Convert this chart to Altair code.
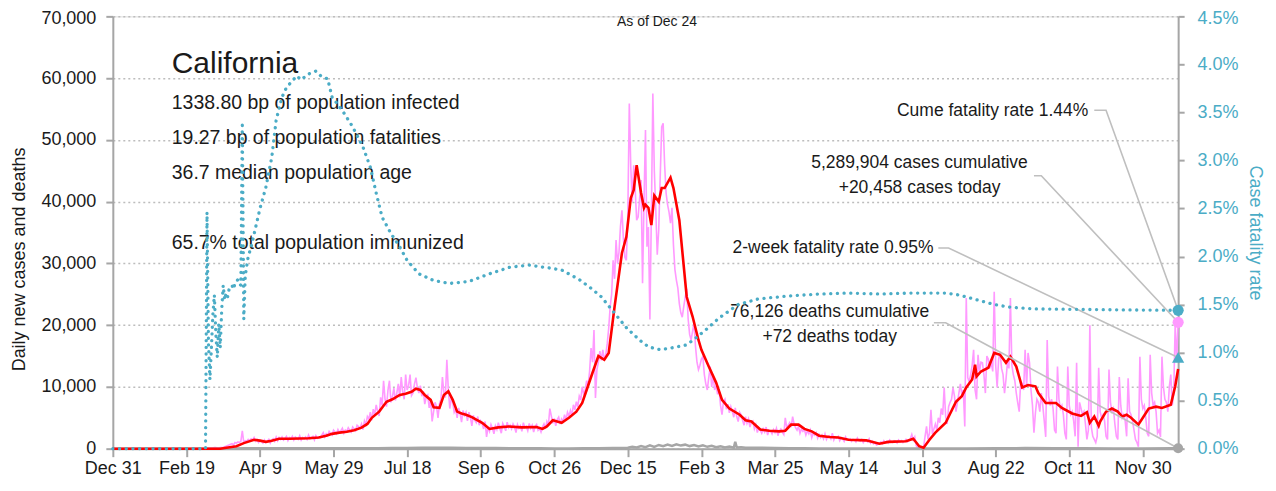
import altair as alt
import pandas as pd

FONT = "Liberation Sans, Arial, sans-serif"
PINK = "#FF99FF"
RED = "#FF0000"
TEAL = "#4BACC6"
GRAY = "#A6A6A6"
LEAD = "#BFBFBF"
INK = "#1a1a1a"

START = pd.Timestamp("2019-12-31")
END_DAY = 724  # 2021-12-24

x_tick_dates = ["2019-12-31", "2020-02-19", "2020-04-09", "2020-05-29", "2020-07-18",
                "2020-09-06", "2020-10-26", "2020-12-15", "2021-02-03", "2021-03-25",
                "2021-05-14", "2021-07-03", "2021-08-22", "2021-10-11", "2021-11-30"]
left_ticks = [0, 10000, 20000, 30000, 40000, 50000, 60000, 70000]
right_ticks = [0, 0.005, 0.01, 0.015, 0.02, 0.025, 0.03, 0.035, 0.04, 0.045]

# daily new cases (thousands), day offsets from 2019-12-31
pink_lead_days = [0, 60]
pink_lead_vals = [0.0, 0.0]
pink_first_day = 61
pink_vals = [
    0.0, 0.0, 0.1, 0.0, 0.1, 0.1, 0.1, 0.1, 0.2, 0.2,
    0.1, 0.1, 0.2, 0.2, 0.2, 0.3, 0.4, 0.5, 0.6, 0.7,
    0.8, 0.6, 1.0, 0.9, 1.1, 1.0, 1.2, 2.9, 1.0, 1.3,
    1.2, 1.5, 1.3, 1.6, 1.4, 1.8, 1.2, 1.5, 1.0, 1.3,
    1.2, 0.9, 1.4, 1.0, 1.2, 1.5, 0.9, 1.4, 1.6, 1.2,
    1.9, 1.3, 1.8, 1.5, 1.9, 1.4, 1.7, 2.0, 1.3, 1.8,
    1.6, 2.0, 1.4, 1.9, 1.7, 1.5, 2.1, 1.4, 1.8, 1.6,
    1.9, 1.5, 2.2, 1.6, 1.8, 2.0, 1.4, 2.1, 1.7, 1.9,
    1.8, 2.2, 2.6, 1.9, 2.4, 2.1, 2.8, 2.5, 2.2, 3.0,
    2.7, 2.4, 3.1, 2.6, 2.9, 3.3, 2.5, 3.0, 2.8, 3.4,
    3.0, 2.7, 3.5, 3.2, 2.9, 3.8, 3.6, 3.3, 4.0, 3.1,
    4.5, 3.9, 5.2, 4.8, 5.9, 4.6, 6.4, 5.5, 7.1, 6.0,
    5.3, 8.3, 7.0, 11.0, 8.0, 6.8, 9.5, 11.0, 7.5, 8.4,
    9.8, 7.8, 9.0, 10.5, 8.3, 11.6, 9.2, 8.0, 12.0, 9.5,
    10.2, 12.0, 8.6, 9.0, 10.5, 11.5, 9.8, 9.0, 10.2, 8.5,
    9.3, 7.2, 8.4, 8.7, 6.6, 7.9, 4.4, 6.0, 7.5, 6.8,
    5.0, 7.3, 8.0, 11.6, 9.0, 8.3, 14.4, 9.6, 6.5, 8.1,
    7.5, 5.9, 6.4, 5.0, 6.6, 5.7, 4.3, 6.2, 5.4, 5.9,
    4.5, 5.9, 5.1, 3.7, 5.4, 4.6, 4.2, 5.2, 3.8, 4.5,
    4.0, 3.2, 4.4, 1.9, 3.5, 2.8, 3.9, 3.3, 2.4, 3.7,
    3.1, 4.2, 3.3, 2.5, 4.1, 3.6, 2.9, 4.3, 3.4, 3.8,
    3.2, 4.0, 3.5, 2.6, 3.9, 3.3, 3.7, 2.8, 4.2, 3.4,
    3.6, 2.9, 4.1, 3.3, 3.8, 2.7, 3.6, 3.9, 3.0, 3.3,
    2.7, 3.5, 4.0, 3.2, 4.4, 3.8, 6.5, 5.3, 4.1, 4.9,
    3.7, 4.7, 5.1, 4.0, 4.8, 4.4, 5.5, 4.6, 5.9, 5.3,
    6.2, 5.4, 7.1, 6.3, 7.6, 6.8, 8.5, 7.9, 10.0, 8.9,
    9.5, 11.0, 10.2, 12.5, 16.3, 14.0, 19.2, 8.2, 12.8, 14.0,
    15.8, 14.3, 16.0, 14.4, 15.2, 17.0, 19.5, 23.0, 25.0, 30.5,
    27.5, 33.8, 30.0, 31.8, 36.0, 38.6, 34.0, 31.0, 30.5, 38.0,
    55.9, 45.6, 40.0, 45.9, 42.0, 37.0, 37.5, 40.5, 43.5, 26.8,
    40.0, 51.6, 32.7, 35.9, 20.9, 38.0, 57.5, 45.0, 38.6, 31.4,
    35.4, 44.0, 52.1, 52.7, 46.0, 41.4, 39.5, 38.3, 36.5, 39.0,
    33.0, 29.0, 27.3, 26.0, 23.5, 22.0, 21.3, 23.0, 24.5, 25.9,
    21.0, 18.5, 17.6, 19.0, 20.4, 16.5, 14.0, 12.8, 13.5, 14.5,
    14.9, 12.0, 10.5, 9.5, 11.5, 13.3, 10.0, 11.8, 9.5, 10.2,
    8.8, 9.6, 7.0, 5.5, 7.6, 8.0, 6.4, 7.2, 5.8, 6.8,
    6.0, 5.1, 6.6, 5.2, 4.4, 5.9, 5.5, 4.6, 3.8, 5.2,
    4.1, 4.8, 3.5, 4.3, 4.5, 3.2, 3.9, 2.6, 3.4, 3.0,
    2.5, 3.2, 2.7, 3.5, 2.2, 3.0, 2.9, 2.4, 3.1, 2.6,
    3.3, 2.1, 2.9, 3.2, 2.7, 2.3, 5.0, 3.4, 3.8, 4.2,
    3.5, 5.2, 4.0, 3.4, 3.0, 3.6, 2.5, 3.2, 2.8, 3.1,
    2.2, 2.9, 2.4, 3.0, 1.8, 2.5, 2.2, 2.6, 1.7, 2.3,
    1.8, 2.2, 1.6, 2.4, 1.5, 2.0, 2.1, 1.6, 2.5, 1.4,
    1.9, 1.7, 2.0, 1.3, 1.8, 1.6, 1.2, 1.9, 1.4, 1.5,
    1.6, 1.2, 1.5, 1.4, 1.1, 1.7, 1.3, 1.2, 1.5, 1.0,
    1.4, 1.3, 1.1, 1.6, 0.9, 1.2, 0.8, 1.0, 0.6, 0.7,
    0.9, 1.1, 0.8, 1.3, 1.0, 1.2, 0.9, 1.4, 1.1, 1.0,
    1.3, 1.2, 0.9, 1.4, 1.1, 1.3, 1.0, 1.2, 1.5, 1.1,
    1.3, 1.6, 2.3, 1.4, 1.9, 0.5, 0.2, 0.3, 0.0, 0.1,
    0.2, 2.0, 3.6, 1.5, 2.5, 6.3, 2.4, 3.2, 4.0, 3.0,
    5.0, 4.2, 6.5, 5.5, 9.9, 5.2, 4.0, 6.8, 7.5, 8.0,
    9.9, 8.5, 6.0, 7.5, 9.0, 10.5, 8.8, 9.5, 3.6, 24.4,
    11.5, 10.8, 12.0, 13.5, 16.0, 9.5, 8.0, 15.2, 12.5, 14.0,
    13.9, 12.0, 9.0, 15.0, 14.5, 13.0, 14.0, 12.5, 25.4, 13.5,
    9.9, 14.5, 15.5, 13.0, 12.0, 9.0, 11.2, 14.0, 13.0, 24.4,
    13.5, 12.0, 11.0, 9.0, 7.4, 6.0, 11.0, 10.5, 9.5, 16.0,
    10.0, 15.5, 13.9, 9.5, 7.0, 2.6, 5.8, 8.0, 7.5, 6.0,
    9.0, 7.0, 4.5, 1.9, 17.6, 8.5, 7.0, 8.0, 6.5, 3.0,
    2.5, 13.3, 8.0, 6.5, 7.0, 5.5, 2.5, 1.5, 13.3, 7.0,
    5.5, 6.0, 4.5, 2.0, 13.9, 0.3, 7.5, 6.5, 5.5, 6.0,
    4.0, 1.5, 3.0, 20.0, 3.5, 2.0, 1.5, 1.0, 2.0, 13.1,
    6.0, 5.0, 5.5, 4.5, 2.0, 1.5, 12.8, 7.5, 6.0, 6.5,
    4.0, 2.0, 1.5, 11.6, 7.0, 5.0, 5.5, 4.5, 2.0, 11.4,
    6.0, 5.5, 4.5, 3.0, 1.5, 1.0, 0.3, 14.9, 8.0, 6.5,
    7.0, 5.0, 2.5, 2.0, 15.2, 9.0, 7.0, 7.5, 6.0, 2.5,
    3.0, 1.9, 14.9, 10.0, 8.0, 7.5, 6.0, 10.0, 12.0, 7.0,
    9.0, 20.4, 14.0, 20.458,
]

# 7-day average of new cases (thousands)
red_days = [0, 73, 76, 84, 89, 96, 100, 104, 108, 113, 120, 127, 133, 140, 145, 149, 154, 159,
            164, 169, 173, 176, 181, 186, 190, 195, 199, 203, 206, 209, 212, 216, 218, 222, 225,
            228, 231, 234, 237, 240, 244, 247, 251, 256, 262, 269, 278, 288, 292, 295, 299, 302,
            305, 310, 315, 319, 322, 326, 330, 334, 337, 341, 346, 349, 352, 354, 356, 359, 361,
            362, 364, 366, 368, 371, 373, 375, 379, 381, 385, 390, 394, 398, 400, 405, 410, 414,
            419, 426, 430, 434, 440, 446, 453, 457, 461, 466, 470, 475, 480, 487, 493, 500, 512,
            521, 527, 539, 544, 548, 551, 555, 559, 566, 573, 577, 580, 584, 586, 587, 590, 595,
            599, 603, 607, 610, 614, 618, 622, 627, 629, 634, 641, 645, 652, 658, 662, 664, 667,
            670, 671, 675, 679, 683, 686, 689, 692, 697, 700, 704, 709, 713, 719, 722, 724]
red_vals = [0, 0, 0.1, 0.4, 0.9, 1.45, 1.3, 1.1, 1.3, 1.6, 1.6, 1.65, 1.7, 1.8, 2.1, 2.4, 2.6, 2.75,
            3.0, 3.4, 4.0, 5.0, 6.0, 7.6, 8.0, 8.7, 8.9, 9.2, 9.7, 9.5, 8.7, 7.9, 6.7, 6.6, 8.7,
            9.3, 7.9, 6.0, 5.7, 5.5, 5.1, 4.7, 4.2, 3.2, 3.45, 3.6, 3.45, 3.5, 3.2, 3.6, 4.6, 4.4,
            4.2, 5.0, 6.0, 7.4, 9.5, 12.3, 15.0, 14.4, 15.5, 23.0, 31.7, 34.3, 40.6, 41.9, 45.9, 41.4, 39.0,
            39.5, 39.0, 36.2, 41.0, 40.0, 42.2, 42.2, 43.9, 42.2, 37.0, 24.6, 21.4, 17.6, 16.0, 13.3, 10.7, 7.9,
            6.5, 5.5, 4.6, 4.4, 3.1, 2.9, 2.8, 2.9, 3.9, 3.9, 3.2, 2.8, 2.1, 1.9, 1.8, 1.45, 1.35,
            0.8, 1.1, 1.2, 1.6, 0.4, 0.15, 1.45, 2.6, 4.2, 7.6, 8.5, 9.9, 11.2, 13.6, 11.7, 12.5, 13.1,
            15.5, 15.2, 13.9, 14.9, 13.3, 9.9, 10.3, 10.1, 9.0, 7.4, 7.4, 6.6, 5.7, 5.3, 5.9, 4.2, 5.2,
            3.7, 4.4, 6.0, 6.5, 6.0, 5.2, 5.5, 5.0, 3.9, 5.0, 6.5, 6.8, 6.6, 7.1, 10.1, 12.9]

# daily deaths
death_days = [0, 75, 80, 90, 100, 110, 120, 130, 140, 150, 160, 170, 180, 190, 200, 210, 220, 230,
              240, 250, 260, 270, 280, 290, 300, 310, 320, 330, 340, 350, 353, 356, 359, 362, 365,
              368, 371, 374, 377, 380, 383, 386, 389, 392, 395, 398, 401, 404, 407, 410, 413, 416,
              419, 422, 423, 424, 427, 430, 440, 450, 460, 470, 480, 500, 520, 540, 560, 580, 600,
              620, 640, 660, 680, 700, 720, 724]
death_vals = [0, 0, 20, 50, 60, 80, 80, 75, 70, 60, 55, 60, 70, 100, 110, 130, 140, 130,
              120, 100, 90, 80, 60, 50, 45, 45, 50, 70, 120, 150, 300, 200, 420, 250, 550,
              300, 600, 400, 650, 450, 700, 500, 650, 420, 600, 350, 550, 300, 480, 250, 400, 200,
              350, 150, 1100, 200, 250, 150, 150, 100, 80, 50, 35, 25, 15, 15, 15, 40, 80,
              90, 70, 50, 40, 40, 50, 72]

# case fatality rate (%)
cfr_days = [0, 63, 64, 65, 66, 67, 68, 69, 70, 71, 72, 73, 74, 75, 76, 77, 78, 79, 80, 81, 82, 83,
            84, 85, 86, 87, 88, 89, 90, 92, 94, 97, 100, 104, 108, 111, 115, 118, 125, 128, 133,
            138, 142, 146, 149, 156, 163, 170, 175, 179, 183, 189, 195, 200, 208, 218, 229, 242,
            256, 270, 283, 297, 305, 317, 325, 332, 341, 349, 358, 364, 372, 380, 390, 396, 404,
            412, 425, 439, 460, 480, 500, 521, 543, 566, 575, 587, 599, 611, 627, 656, 684, 724]
cfr_vals = [0, 0, 2.46, 1.10, 0.72, 1.05, 1.40, 1.60, 1.20, 0.95, 1.30, 1.05, 1.45, 1.70, 1.55,
            1.62, 1.58, 1.66, 1.68, 1.70, 1.66, 1.72, 1.74, 1.76, 1.72, 1.70, 3.40, 1.35, 1.80,
            2.00, 2.10, 2.30, 2.50, 2.72, 3.03, 3.42, 3.66, 3.76, 3.88, 3.84, 3.90, 3.93, 3.87,
            3.85, 3.66, 3.52, 3.35, 3.14, 2.93, 2.66, 2.41, 2.24, 2.10, 1.96, 1.82, 1.75, 1.72,
            1.74, 1.82, 1.89, 1.91, 1.88, 1.86, 1.76, 1.67, 1.58, 1.41, 1.26, 1.13, 1.06, 1.03,
            1.05, 1.08, 1.15, 1.25, 1.36, 1.50, 1.56, 1.59, 1.61, 1.62, 1.61, 1.62, 1.62, 1.60,
            1.55, 1.50, 1.47, 1.455, 1.45, 1.445, 1.44]

# latest values
cume_cfr = 1.44
two_week_cfr = 0.95
cases_today = 20458
deaths_today = 72

title_text = ["California"]
stat_texts = ["1338.80 bp of population infected", "19.27 bp of population fatalities",
              "36.7 median population age", "65.7% total population immunized"]
asof_text = ["As of Dec 24"]
cume_text = ["Cume fatality rate 1.44%"]
cases_texts = ["5,289,904 cases cumulative", "+20,458 cases today"]
twowk_text = ["2-week fatality rate 0.95%"]
deaths_texts = ["76,126 deaths cumulative", "+72 deaths today"]

# leader line anchors near labels: (day a, day b, level in left-axis units)
lead_anchor_days = [[667, 675], [626, 631], [561, 568], [558, 566]]
lead_anchor_levels = [54800, 44200, 32500, 20400]


def to_date(d):
    return START + pd.Timedelta(days=int(d))


LEFT_MAX = 70000
RIGHT_MAX = 0.045

pink_df = pd.DataFrame({
    "date": [to_date(d) for d in pink_lead_days] + [to_date(pink_first_day + i) for i in range(len(pink_vals))],
    "v": [v * 1000 for v in pink_lead_vals] + [v * 1000 for v in pink_vals],
})
red_df = pd.DataFrame({"date": [to_date(d) for d in red_days], "v": [v * 1000 for v in red_vals]})
death_df = pd.DataFrame({"date": [to_date(d) for d in death_days], "v": death_vals})
cfr_df = pd.DataFrame({"date": [to_date(d) for d in cfr_days], "v": [v / 100 for v in cfr_vals]})

end_date = to_date(END_DAY)
end_levels = [cume_cfr / 100 / RIGHT_MAX * LEFT_MAX, cases_today,
              two_week_cfr / 100 / RIGHT_MAX * LEFT_MAX, deaths_today]
rows = []
for g, (days, lvl, endv) in enumerate(zip(lead_anchor_days, lead_anchor_levels, end_levels)):
    rows.append({"date": to_date(days[0]), "v": lvl, "g": g, "o": 0})
    rows.append({"date": to_date(days[1]), "v": lvl, "g": g, "o": 1})
    rows.append({"date": end_date, "v": endv, "g": g, "o": 2})
lead_df = pd.DataFrame(rows)

xdom = [alt.DateTime(year=2019, month=12, date=31), alt.DateTime(year=2021, month=12, date=24)]
xvals = [alt.DateTime(year=int(s[:4]), month=int(s[5:7]), date=int(s[8:])) for s in x_tick_dates]

X = alt.X("date:T", title=None,
          scale=alt.Scale(domain=xdom),
          axis=alt.Axis(values=xvals, format="%b %-d", labelFontSize=18, labelColor=INK,
                        labelFont=FONT, domainColor=GRAY, domainWidth=2, tickColor=GRAY,
                        tickWidth=2, tickSize=8, labelPadding=3, grid=False,
                        labelFlush=False, labelOverlap=False))

YL = alt.Y("v:Q", title="Daily new cases and deaths",
           scale=alt.Scale(domain=[0, LEFT_MAX], nice=False),
           axis=alt.Axis(values=left_ticks, format=",d", labelFontSize=18, labelColor=INK,
                         labelFont=FONT, domainColor=GRAY, domainWidth=2, tickColor=GRAY,
                         tickWidth=2, tickSize=7, labelPadding=10,
                         labelOffset={"condition": {"test": "datum.value >= 69999", "value": 2.5},
                                      "value": 0},
                         grid=True,
                         gridColor="#BDBDBD", gridDash=[2, 3], gridWidth=1.5,
                         titleFontSize=18, titleFont=FONT, titleFontWeight="normal",
                         titleColor=INK, titlePadding=12, titleY=243))

YR = alt.Y("v:Q", title="Case fatality rate",
           scale=alt.Scale(domain=[0, RIGHT_MAX], nice=False),
           axis=alt.Axis(orient="right", values=right_ticks, format=".1%", labelFontSize=18,
                         labelColor=TEAL, labelFont=FONT, domainColor=GRAY, domainWidth=2,
                         tickColor=GRAY, tickWidth=2, tickSize=6, labelPadding=13,
                         labelOffset={"condition": {"test": "datum.value >= 0.0449", "value": 2.5},
                                      "value": 0},
                         grid=False,
                         titleFontSize=18, titleFont=FONT, titleFontWeight="normal",
                         titleColor=TEAL, titlePadding=7))

pink = alt.Chart(pink_df).mark_line(color=PINK, strokeWidth=1.6).encode(x=X, y=YL)
deaths = alt.Chart(death_df).mark_line(color=GRAY, strokeWidth=2.5).encode(x=X, y=YL)
red = alt.Chart(red_df).mark_line(color=RED, strokeWidth=2.6).encode(x=X, y=YL)
leads = alt.Chart(lead_df).mark_line(color=LEAD, strokeWidth=1.6).encode(
    x=X, y=YL, detail="g:N", order="o:Q")
pink_pt = alt.Chart(pd.DataFrame({"date": [end_date], "v": [cases_today]})).mark_point(
    shape="circle", filled=True, size=125, color=PINK, opacity=1).encode(x=X, y=YL)
death_pt = alt.Chart(pd.DataFrame({"date": [end_date], "v": [deaths_today]})).mark_point(
    shape="circle", filled=True, size=100, color=GRAY, opacity=1).encode(x=X, y=YL)


def txt(texts, x, ys, size=17.5, align="left", baseline="middle", color=INK):
    layers = []
    for t, y in zip(texts, ys):
        layers.append(alt.Chart(pd.DataFrame({"t": [t]})).mark_text(
            align=align, baseline=baseline, fontSize=size, font=FONT, color=color).encode(
            text="t:N", x=alt.value(x), y=alt.value(y)))
    return layers


texts = []
texts += txt(asof_text, 545, [6], size=14, align="center")
texts += txt(title_text, 59, [57], size=30, baseline="alphabetic")
texts += txt(stat_texts, 59, [93, 128, 163, 233], size=19.5, baseline="alphabetic")
texts += txt(cume_text, 977, [95], align="right")
texts += txt(cases_texts, 808, [147, 172], align="center")
texts += txt(twowk_text, 822, [232], align="right")
texts += txt(deaths_texts, 718, [296, 321], align="center")

left = alt.layer(pink, deaths, red, leads, pink_pt, death_pt, *texts)

cfr = alt.Chart(cfr_df).mark_line(color=TEAL, strokeWidth=3.3, strokeDash=[0.1, 6.6],
                                  strokeCap="round").encode(x=X, y=YR)
cfr_pt = alt.Chart(pd.DataFrame({"date": [end_date], "v": [cume_cfr / 100]})).mark_point(
    shape="circle", filled=True, size=125, color=TEAL, opacity=1).encode(x=X, y=YR)
tri_pt = alt.Chart(pd.DataFrame({"date": [end_date], "v": [two_week_cfr / 100]})).mark_point(
    shape="triangle-up", filled=True, size=150, color=TEAL, opacity=1).encode(x=X, y=YR)
right = alt.layer(cfr, cfr_pt, tri_pt)

chart = alt.layer(left, right).resolve_scale(y="independent").properties(
    width=1067, height=433,
    autosize=alt.AutoSizeParams(type="none"),
    padding={"left": 105, "top": 8, "right": 90, "bottom": 31},
).configure_view(stroke=None).configure(font=FONT)

chart.save("out.html", embed_options={"renderer": "svg", "actions": False})
